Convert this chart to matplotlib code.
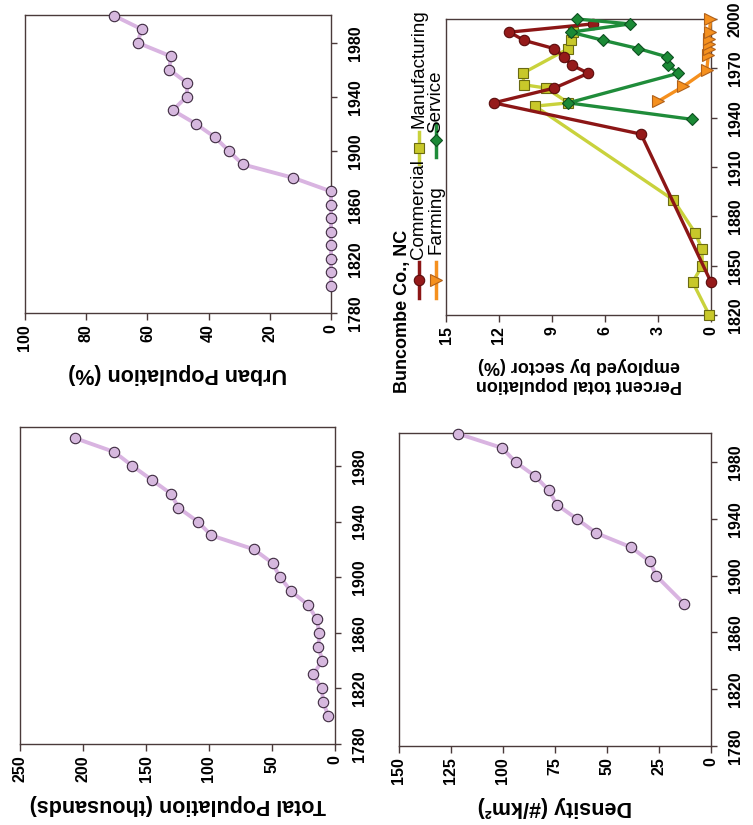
import numpy as np
import matplotlib
matplotlib.use('Agg')
import matplotlib.pyplot as plt
from matplotlib.lines import Line2D

plt.rcParams['font.family'] = ['Liberation Sans', 'DejaVu Sans']
plt.rcParams['font.weight'] = 'bold'

# census years
years = [1800, 1810, 1820, 1830, 1840, 1850, 1860, 1870, 1880, 1890, 1900,
         1910, 1920, 1930, 1940, 1950, 1960, 1970, 1980, 1990, 2000]
total_pop = [5.3, 9.3, 10.6, 17.2, 10.1, 13.2, 12.4, 14.6, 21.4, 34.9, 43.7,
             49.5, 64.3, 98.1, 109.0, 124.3, 130.2, 145.5, 160.8, 175.1, 206.3]
urban_pct = [0, 0, 0, 0, 0, 0, 0, 0, 12.3, 28.9, 33.4,
             37.9, 44.2, 51.7, 47.2, 46.9, 52.8, 52.4, 63.2, 61.9, 70.9]

density_years = [1880, 1900, 1910, 1920, 1930, 1940, 1950, 1960, 1970, 1980, 1990, 2000]
density = [12.8, 26.4, 29.3, 38.4, 55.2, 64.5, 74.1, 77.9, 84.5, 93.9, 100.5, 121.6]

# percent employed by sector
comm_years = [1840, 1930, 1949, 1958, 1967, 1972, 1977, 1982, 1987, 1992, 1997]
comm_vals = [0.0, 3.96, 12.3, 8.87, 6.94, 7.89, 8.32, 8.88, 10.58, 11.41, 6.70]
manu_years = [1820, 1840, 1850, 1860, 1870, 1890, 1947, 1949, 1958, 1960, 1967, 1982, 1987, 1992]
manu_vals = [0.1, 1.04, 0.5, 0.5, 0.9, 2.13, 9.96, 8.07, 9.34, 10.58, 10.66, 8.07, 7.94, 7.83]
serv_years = [1939, 1949, 1967, 1972, 1977, 1982, 1987, 1992, 1997, 2000]
serv_vals = [1.09, 8.07, 1.85, 2.42, 2.5, 4.11, 6.09, 7.94, 4.58, 7.6]
farm_years = [1950, 1959, 1969, 1978, 1982, 1985, 1988, 1992, 2000]
farm_vals = [2.98, 1.57, 0.24, 0.15, 0.1, 0.1, 0.12, 0.08, 0.03]

W, H = 753, 825
fig = plt.figure(figsize=(W / 100, H / 100), dpi=100)

def box(l, t, r, b):
    return [l / W, 1 - b / H, (r - l) / W, (b - t) / H]

frame_col = '#4a3a3a'
lav_line = '#d9b4e1'
lav_face = '#d6b8de'
lav_edge = '#3d2a40'

def setup(ax, xmax, xstep, ymin, ymax, ystart, ystep, label, lsize=15.5, lpad=9):
    ax.set_xlim(xmax, 0)
    ax.set_ylim(ymin, ymax)
    ax.set_xticks(np.arange(0, xmax + 0.01, xstep))
    ax.set_yticks(np.arange(ystart, ymax + 0.01, ystep))
    ax.yaxis.tick_right()
    ax.tick_params(axis='x', direction='out', length=5, width=1, color=frame_col,
                   labelsize=11.5, labelrotation=90, pad=3)
    ax.tick_params(axis='y', direction='out', length=4, width=1, color=frame_col,
                   labelsize=11.5, labelrotation=90, pad=8)
    for lab in ax.get_yticklabels():
        lab.set_va('center')
    for s in ax.spines.values():
        s.set_color(frame_col)
        s.set_linewidth(1)
    ax.set_xlabel(label, rotation=180, fontsize=lsize, fontweight='bold', labelpad=lpad)

# urban population (top left)
ax1 = fig.add_axes(box(25, 15, 331, 313))
ax1.plot(urban_pct, years, '-o', color=lav_line, lw=2.8, ms=7.5,
         mfc=lav_face, mec=lav_edge, mew=0.8, clip_on=False, zorder=3)
setup(ax1, 100, 20, 1780, 2000.5, 1780, 40, 'Urban Population (%)')

# total population (bottom left)
ax3 = fig.add_axes(box(20, 427, 335, 744))
ax3.plot(total_pop, years, '-o', color=lav_line, lw=2.8, ms=7.5,
         mfc=lav_face, mec=lav_edge, mew=0.8, clip_on=False, zorder=3)
setup(ax3, 250, 50, 1780, 2008, 1780, 40, 'Total Population (thousands)')

# density (bottom right)
ax4 = fig.add_axes(box(399, 433, 711, 746))
ax4.plot(density, density_years, '-o', color=lav_line, lw=2.8, ms=7.5,
         mfc=lav_face, mec=lav_edge, mew=0.8, clip_on=False, zorder=3)
setup(ax4, 150, 25, 1780, 2000.5, 1780, 40, 'Density (#/km²)')

# employment by sector (top right)
ax2 = fig.add_axes(box(446, 19, 711, 315))
styles = {
    'Commercial': dict(color='#8c1616', marker='o', ms=7.5, mfc='#951a1a', mec='#5a0c0c'),
    'Manufacturing': dict(color='#c9d23c', marker='s', ms=6.5, mfc='#c8c82a', mec='#6a6a12'),
    'Service': dict(color='#1f8c3a', marker='D', ms=6.5, mfc='#1b8a36', mec='#0d4f20'),
    'Farming': dict(color='#f5901e', marker='>', ms=8, mfc='#f5901e', mec='#b0601a'),
}
ax2.plot(manu_vals, manu_years, lw=2.4, mew=0.8, clip_on=False, zorder=3, **styles['Manufacturing'])
ax2.plot(comm_vals, comm_years, lw=2.4, mew=0.8, clip_on=False, zorder=4, **styles['Commercial'])
ax2.plot(farm_vals, farm_years, lw=2.4, mew=0.8, clip_on=False, zorder=3, **styles['Farming'])
ax2.plot(serv_vals, serv_years, lw=2.4, mew=0.8, clip_on=False, zorder=5, **styles['Service'])
setup(ax2, 15, 3, 1820, 2000, 1820, 30,
      'Percent total population\nemployed by sector (%)', lsize=13, lpad=9)

# legend drawn sideways to the left of the sector panel
def fx(x):
    return x / W

def fy(y):
    return 1 - y / H

fig.text(fx(403), fy(311), 'Buncombe Co., NC', rotation=90, fontsize=13,
         fontweight='bold', ha='center', va='center')
entries = [('Commercial', 419, 298, 262, 280, 259),
           ('Manufacturing', 419, 164, 132, 148, 128),
           ('Farming', 436, 298, 262, 280, 254),
           ('Service', 436, 157, 124, 140, 133)]
for name, x, y0, y1, ym, yt in entries:
    st = styles[name]
    fig.add_artist(Line2D([fx(x), fx(x)], [fy(y0), fy(y1)], transform=fig.transFigure,
                          color=st['color'], lw=2.5))
    fig.add_artist(Line2D([fx(x)], [fy(ym)], transform=fig.transFigure, color=st['color'],
                          marker=st['marker'], ms=st['ms'], mfc=st['mfc'], mec=st['mec'], mew=0.8))
    fig.text(fx(x), fy(yt), name, rotation=90, rotation_mode='anchor', fontsize=13.5,
             fontweight='normal', ha='left', va='center')

fig.savefig('out.png', dpi=100)
